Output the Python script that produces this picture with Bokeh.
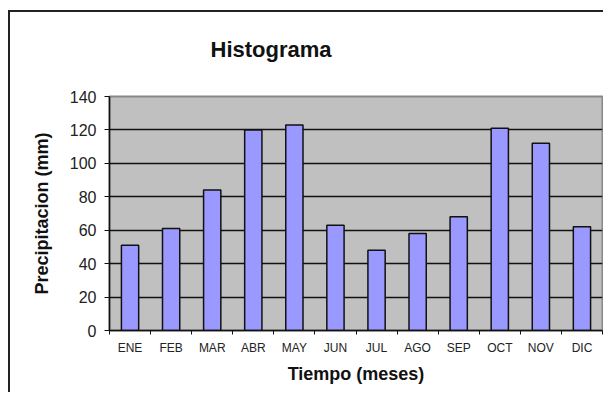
from bokeh.plotting import figure
from bokeh.models import ColumnDataSource, FixedTicker, Range1d
from bokeh.embed import file_html
from bokeh.resources import INLINE

months = ["ENE", "FEB", "MAR", "ABR", "MAY", "JUN", "JUL", "AGO", "SEP", "OCT", "NOV", "DIC"]
precip = [51, 61, 84, 120, 123, 63, 48, 58, 68, 121, 112, 62]
y_ticks = [0, 20, 40, 60, 80, 100, 120, 140]

xpos = [i + 0.5 for i in range(len(months))]
src = ColumnDataSource(dict(x=xpos, top=precip, m=months))

p = figure(width=603, height=392, output_backend="svg", toolbar_location=None,
           x_range=Range1d(0, 12), y_range=Range1d(0, 140),
           min_border_left=109, min_border_right=1, min_border_top=96, min_border_bottom=62)
p.background_fill_color = "#C0C0C0"
p.border_fill_color = None
p.outline_line_color = "#888888"
p.outline_line_width = 2
p.styles = {
    "background-color": "white",
    "background-image": "linear-gradient(#222222, #222222), linear-gradient(#222222, #222222)",
    "background-size": "2px 100%, 100% 2px",
    "background-position": "8px 10px, 8px 10px",
    "background-repeat": "no-repeat",
}

p.vbar(x="x", top="top", width=0.42, bottom=0, source=src,
       fill_color="#9999FF", line_color="#111111", line_width=1.5)

# axes
p.xaxis.ticker = FixedTicker(ticks=xpos, minor_ticks=list(range(13)))
p.xaxis.major_label_overrides = {x: m for x, m in zip(xpos, months)}
p.xaxis.major_tick_out = 0
p.xaxis.major_tick_in = 0
p.xaxis.minor_tick_out = 4
p.xaxis.minor_tick_in = 0
p.xaxis.minor_tick_line_color = "#111111"
p.xaxis.axis_line_color = "#111111"
p.xaxis.axis_line_width = 1.5
p.xaxis.major_label_text_font = "Liberation Sans"
p.xaxis.major_label_text_font_size = "12px"
p.xaxis.major_label_text_color = "#222222"
p.xaxis.major_label_standoff = 6
p.xaxis.axis_label = "Tiempo (meses)"
p.xaxis.axis_label_text_font = "Liberation Sans"
p.xaxis.axis_label_text_font_style = "bold"
p.xaxis.axis_label_text_font_size = "18px"
p.xaxis.axis_label_text_color = "#111111"
p.xaxis.axis_label_standoff = 6

p.yaxis.ticker = FixedTicker(ticks=y_ticks)
p.yaxis.minor_tick_line_color = None
p.yaxis.major_tick_out = 5
p.yaxis.major_tick_in = 0
p.yaxis.major_tick_line_color = "#111111"
p.yaxis.axis_line_color = "#111111"
p.yaxis.axis_line_width = 1.5
p.yaxis.major_label_text_font = "Liberation Sans"
p.yaxis.major_label_text_font_size = "16px"
p.yaxis.major_label_text_color = "#222222"
p.yaxis.major_label_standoff = 8
p.yaxis.axis_label = "Precipitacion (mm)"
p.yaxis.axis_label_text_font = "Liberation Sans"
p.yaxis.axis_label_text_font_style = "bold"
p.yaxis.axis_label_text_font_size = "18px"
p.yaxis.axis_label_text_color = "#111111"
p.yaxis.axis_label_standoff = 15

p.xgrid.grid_line_color = None
p.ygrid.grid_line_color = "#111111"
p.ygrid.grid_line_width = 1.5
p.ygrid.ticker = FixedTicker(ticks=y_ticks)

p.title.text = "Histograma"
p.title.align = "left"
p.title.offset = 101
p.title.standoff = 69
p.title.text_font = "Liberation Sans"
p.title.text_font_size = "22px"
p.title.text_font_style = "bold"
p.title.text_color = "#111111"

open("out.html", "w").write(file_html(p, INLINE))
